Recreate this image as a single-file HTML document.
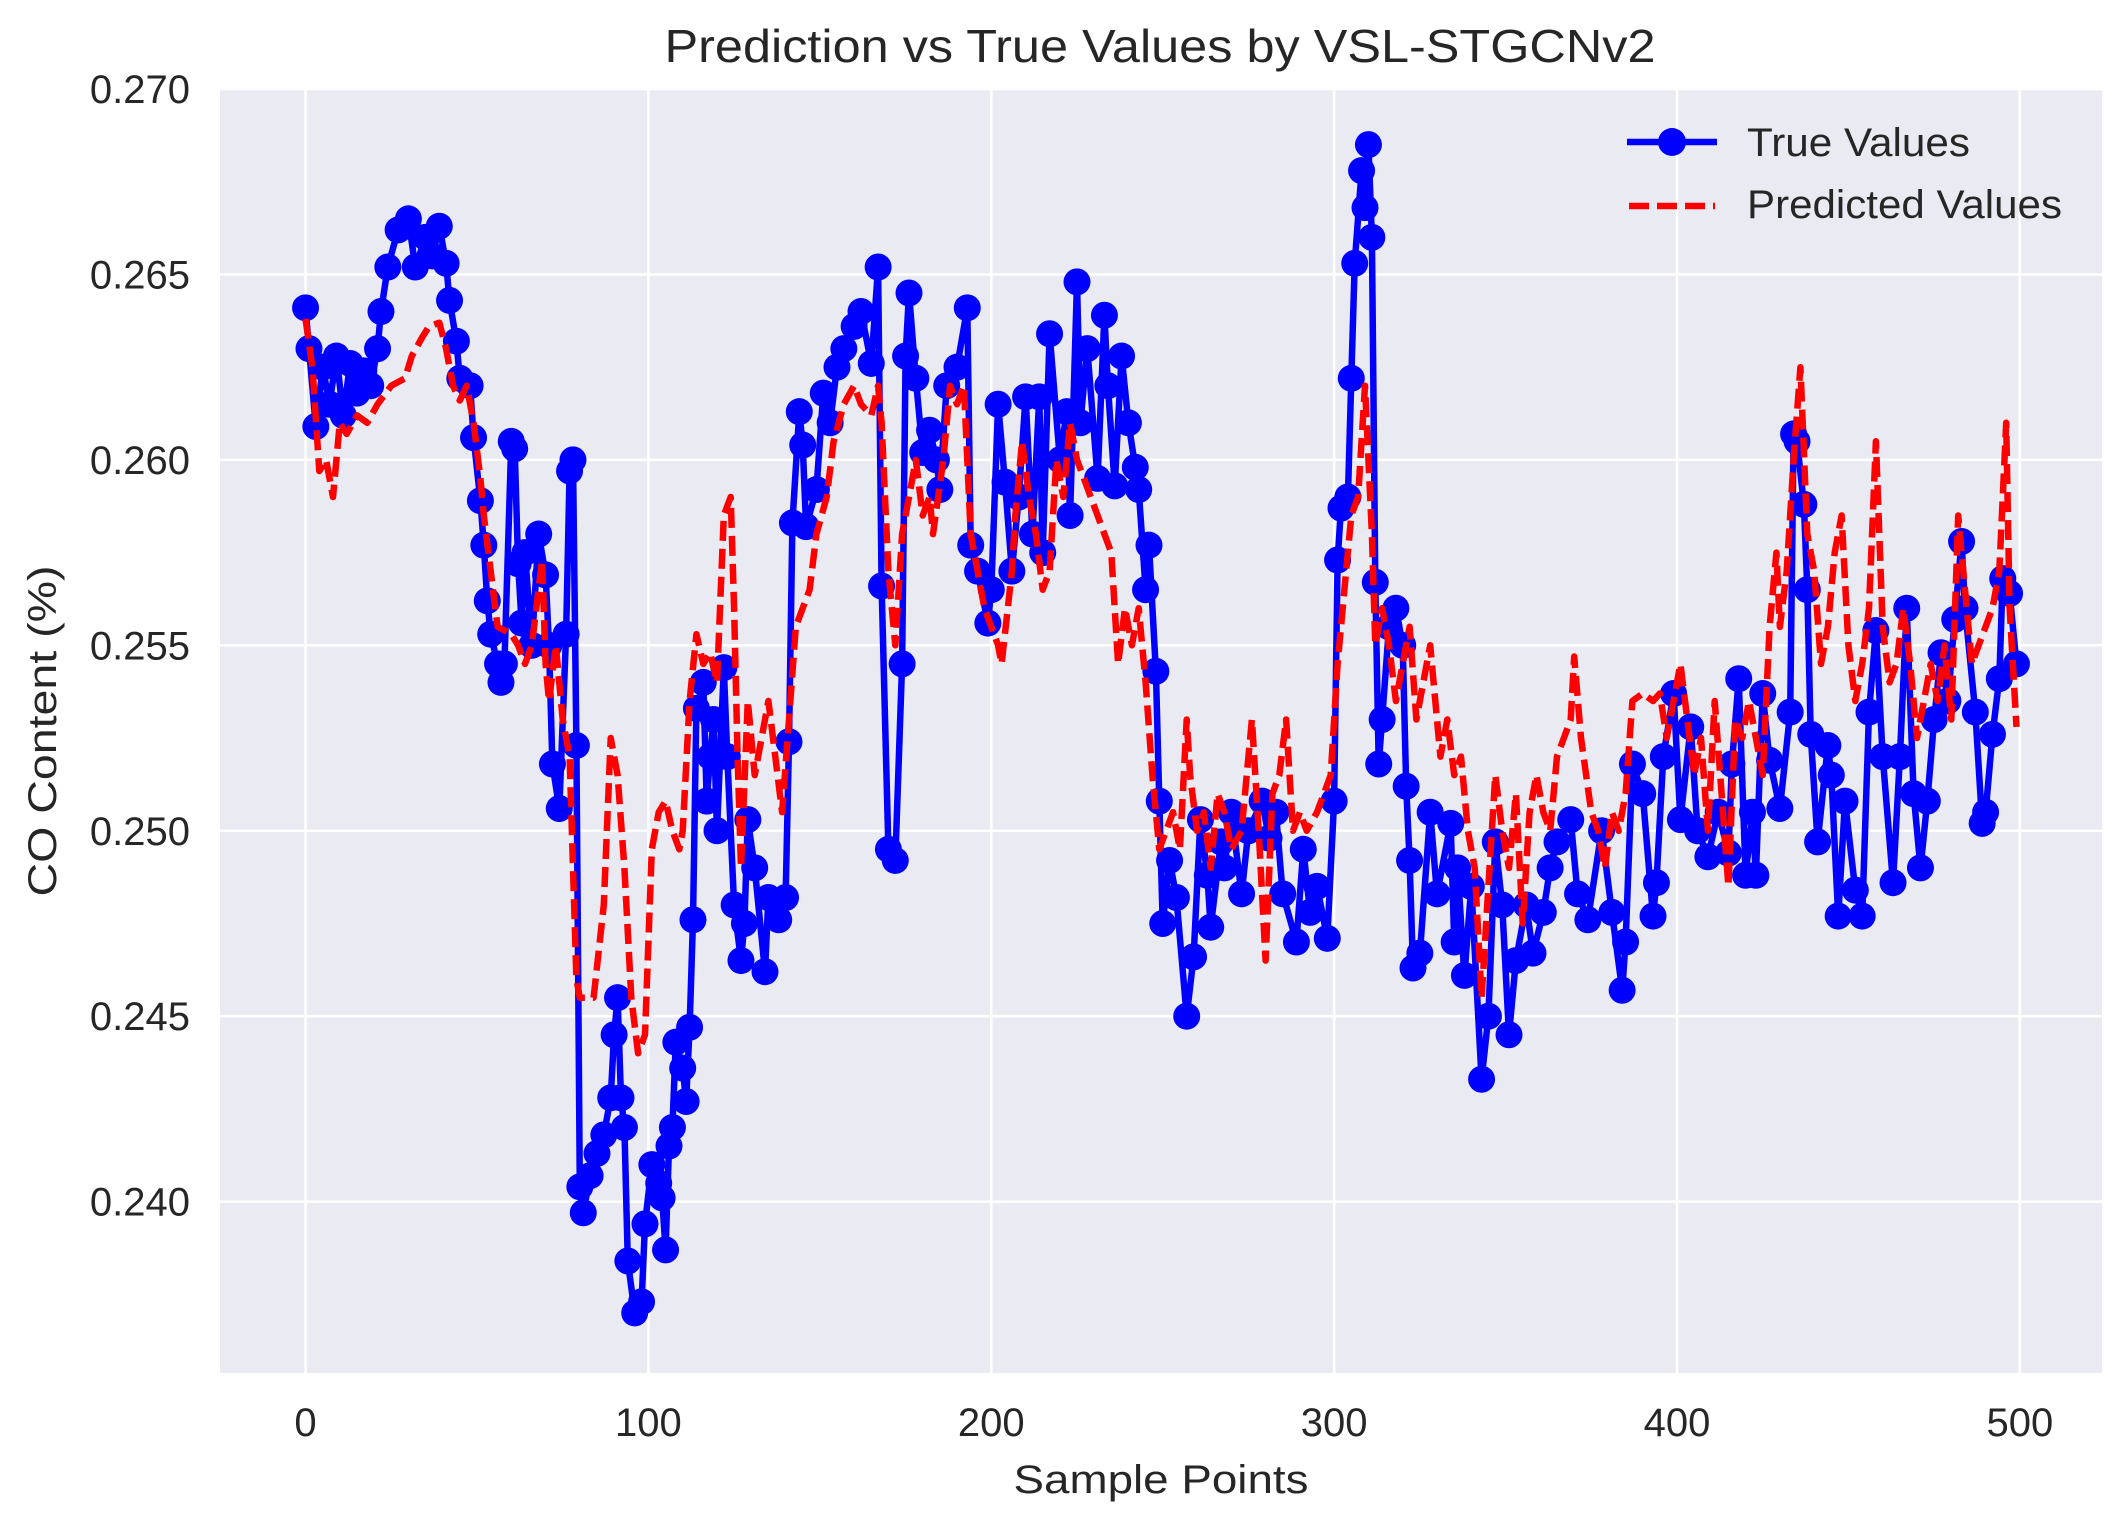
<!DOCTYPE html>
<html><head><meta charset="utf-8">
<style>
html,body{margin:0;padding:0;background:#fff;}
svg{display:block;font-family:"Liberation Sans",Arial,sans-serif;}
</style></head>
<body>
<svg id="chart" width="2120" height="1519" viewBox="0 0 2120 1519" xmlns="http://www.w3.org/2000/svg">
<rect x="220" y="89" width="1882" height="1284" fill="#EAEAF2"/>
<g id="grid"></g>
<g id="series"></g>
<g id="ticks"></g>
<text x="1160" y="62" font-size="46" fill="#262626" text-anchor="middle" textLength="991" lengthAdjust="spacingAndGlyphs">Prediction vs True Values by VSL-STGCNv2</text>
<text x="1161" y="1493" font-size="40" fill="#262626" text-anchor="middle" textLength="295" lengthAdjust="spacingAndGlyphs">Sample Points</text>
<text transform="translate(56,731) rotate(-90)" font-size="40" fill="#262626" text-anchor="middle" textLength="331" lengthAdjust="spacingAndGlyphs">CO Content (%)</text>
<g>
  <g>
    <line x1="1627" y1="142" x2="1717" y2="142" stroke="#0000FF" stroke-width="6.5"/>
    <circle cx="1672" cy="142" r="14" fill="#0000FF"/>
    <text x="1747" y="156" font-size="40" fill="#262626" textLength="223" lengthAdjust="spacingAndGlyphs">True Values</text>
  </g>
  <g>
    <line x1="1629" y1="206" x2="1715" y2="206" stroke="#FF0000" stroke-width="6.5" stroke-dasharray="20,8"/>
    <text x="1747" y="218" font-size="40" fill="#262626" textLength="315" lengthAdjust="spacingAndGlyphs">Predicted Values</text>
  </g>
</g>
</svg>
<script>
const trueIdx=[0,1,3,5,7,9,11,13,15,17,19,21,22,24,27,30,32,35,37,39,41,42,44,45,48,49,51,52,53,54,56,57,58,60,61,62,63,64,66,68,70,71,72,74,76,77,78,79,80,81,83,85,87,89,90,91,92,93,94,96,98,99,101,103,104,105,106,107,108,110,111,112,113,114,116,117,118,119,120,122,123,125,127,128,129,131,134,135,138,140,141,142,144,145,146,149,151,153,155,157,160,162,165,167,168,170,172,174,175,176,178,180,182,184,185,187,190,193,194,196,199,200,202,204,206,208,210,212,214,215,217,220,222,223,225,226,228,231,233,234,236,238,240,242,243,245,246,248,249,250,252,254,257,259,261,263,264,267,268,270,273,275,279,281,283,285,289,291,293,295,298,300,301,302,304,305,306,308,309,310,311,312,313,314,316,318,320,321,322,323,325,328,330,334,335,336,338,340,343,345,347,349,351,353,356,358,361,363,365,369,371,374,378,381,384,385,387,390,393,394,396,399,401,404,406,409,412,415,416,418,420,422,423,425,427,430,433,434,435,437,438,439,441,444,445,447,449,452,454,456,458,460,463,465,467,469,471,473,475,477,479,481,483,484,487,489,490,492,494,495,497,499];
const trueVals=[.2641,.2630,.2609,.2625,.2615,.2628,.2612,.2626,.2618,.2624,.2620,.2630,.2640,.2652,.2662,.2665,.2652,.2660,.2655,.2663,.2653,.2643,.2632,.2622,.2620,.2606,.2589,.2577,.2562,.2553,.2545,.2540,.2545,.2605,.2603,.2572,.2556,.2575,.2550,.2580,.2569,.2550,.2518,.2506,.2553,.2597,.2600,.2523,.2404,.2397,.2407,.2413,.2418,.2428,.2445,.2455,.2428,.2420,.2384,.2370,.2373,.2394,.2410,.2405,.2401,.2387,.2415,.2420,.2443,.2436,.2427,.2447,.2476,.2533,.2540,.2508,.2520,.2530,.2500,.2544,.2520,.2480,.2465,.2475,.2503,.2490,.2462,.2482,.2476,.2482,.2524,.2583,.2613,.2604,.2582,.2592,.2618,.2610,.2625,.2630,.2636,.2640,.2626,.2652,.2566,.2495,.2492,.2545,.2628,.2645,.2622,.2602,.2608,.2600,.2592,.2620,.2625,.2641,.2577,.2570,.2556,.2565,.2615,.2594,.2570,.2590,.2617,.2580,.2617,.2575,.2634,.2600,.2613,.2585,.2648,.2610,.2630,.2595,.2639,.2620,.2593,.2628,.2610,.2598,.2592,.2565,.2577,.2543,.2508,.2475,.2492,.2482,.2450,.2466,.2503,.2488,.2474,.2497,.2490,.2505,.2483,.2500,.2508,.2498,.2505,.2483,.2470,.2495,.2478,.2485,.2471,.2508,.2573,.2587,.2590,.2622,.2653,.2678,.2668,.2685,.2660,.2567,.2518,.2530,.2555,.2560,.2550,.2512,.2492,.2463,.2467,.2505,.2483,.2502,.2470,.2490,.2461,.2485,.2433,.2450,.2497,.2480,.2445,.2465,.2480,.2467,.2478,.2490,.2497,.2503,.2483,.2476,.2500,.2478,.2457,.2470,.2518,.2510,.2477,.2486,.2520,.2537,.2503,.2528,.2500,.2493,.2505,.2494,.2518,.2541,.2488,.2505,.2488,.2537,.2519,.2506,.2532,.2607,.2605,.2588,.2565,.2526,.2497,.2523,.2515,.2477,.2508,.2484,.2477,.2532,.2554,.2520,.2486,.2520,.2560,.2510,.2490,.2508,.2530,.2548,.2535,.2557,.2578,.2560,.2532,.2502,.2505,.2526,.2541,.2568,.2564,.2545];
const predIdx=[0,2,4,6,8,10,12,15,18,21,25,29,31,34,36,39,41,43,45,47,49,51,52,54,56,60,62,64,66,69,70,71,73,75,77,79,80,84,87,89,91,93,95,97,99,101,103,105,107,109,110,112,114,116,118,120,122,124,125,126,127,129,131,133,135,137,139,141,143,145,147,149,152,154,157,160,162,165,167,168,170,172,174,176,178,180,182,183,186,188,190,192,194,196,198,200,202,203,206,207,209,211,213,215,217,219,221,223,225,227,229,231,233,235,237,239,241,243,245,247,249,251,253,255,257,258,260,262,264,266,268,270,273,274,276,278,280,282,284,286,288,290,292,295,297,299,301,303,305,307,309,311,312,314,316,318,320,322,324,326,328,330,331,333,335,337,339,341,343,345,347,349,351,353,355,357,359,361,363,365,367,369,370,372,375,377,379,381,383,385,387,390,393,395,397,399,401,403,405,407,409,411,413,415,417,419,421,423,425,427,429,430,432,434,436,438,440,442,444,446,448,450,452,454,456,458,460,462,464,466,468,470,472,474,476,478,480,482,484,486,488,490,492,494,496,497,499];
const predVals=[.2638,.2625,.2597,.2600,.2590,.2610,.2607,.2612,.2610,.2615,.2620,.2622,.2628,.2633,.2636,.2637,.2630,.2620,.2616,.2620,.2610,.2595,.2585,.2570,.2555,.2553,.2550,.2545,.2550,.2573,.2545,.2535,.2550,.2530,.2520,.2460,.2455,.2455,.2480,.2525,.2515,.2490,.2455,.2440,.2445,.2495,.2505,.2508,.2500,.2495,.2500,.2535,.2553,.2545,.2548,.2540,.2585,.2590,.2560,.2520,.2490,.2535,.2515,.2525,.2535,.2520,.2505,.2530,.2555,.2560,.2565,.2580,.2590,.2605,.2615,.2620,.2615,.2612,.2620,.2610,.2570,.2550,.2580,.2590,.2600,.2585,.2590,.2580,.2600,.2620,.2615,.2620,.2580,.2570,.2560,.2555,.2550,.2545,.2570,.2585,.2605,.2590,.2580,.2565,.2570,.2600,.2590,.2610,.2600,.2595,.2590,.2585,.2580,.2575,.2545,.2560,.2550,.2560,.2540,.2515,.2495,.2500,.2505,.2495,.2530,.2515,.2500,.2505,.2490,.2510,.2505,.2495,.2500,.2510,.2530,.2500,.2465,.2510,.2515,.2530,.2500,.2505,.2500,.2505,.2510,.2515,.2545,.2565,.2585,.2590,.2620,.2580,.2550,.2560,.2550,.2535,.2545,.2555,.2530,.2540,.2550,.2530,.2520,.2530,.2515,.2520,.2500,.2490,.2455,.2485,.2515,.2500,.2490,.2510,.2475,.2505,.2515,.2505,.2500,.2520,.2525,.2530,.2547,.2525,.2505,.2500,.2490,.2505,.2500,.2510,.2535,.2537,.2535,.2537,.2525,.2535,.2545,.2530,.2515,.2525,.2500,.2535,.2510,.2485,.2530,.2525,.2535,.2525,.2515,.2555,.2575,.2555,.2570,.2600,.2625,.2580,.2570,.2545,.2555,.2575,.2585,.2550,.2535,.2545,.2560,.2605,.2555,.2540,.2545,.2560,.2545,.2525,.2535,.2545,.2535,.2550,.2530,.2585,.2565,.2545,.2550,.2555,.2560,.2570,.2610,.2560,.2528];
const xTicks=[0,100,200,300,400,500];
const yTicks=[0.240,0.245,0.250,0.255,0.260,0.265,0.270];
const yTickLabels=["0.240","0.245","0.250","0.255","0.260","0.265","0.270"];

const NS="http://www.w3.org/2000/svg";
const L=220,R=2102,T=89,B=1373;
const xMin=-24.95,xMax=523.95,yMin=0.23538,yMax=0.27;
function xs(v){return L+(v-xMin)/(xMax-xMin)*(R-L);}
function ys(v){return B-(v-yMin)/(yMax-yMin)*(B-T);}
function mk(tag,attrs,parent){const e=document.createElementNS(NS,tag);for(const k in attrs)e.setAttribute(k,attrs[k]);parent.appendChild(e);return e;}

const grid=document.getElementById('grid'),ticks=document.getElementById('ticks'),series=document.getElementById('series');
xTicks.forEach(t=>{
  const g=mk('line',{x1:xs(t),x2:xs(t),y1:T,y2:B,stroke:'#fff','stroke-width':2.6},grid);
  
  
  const lb=mk('text',{x:xs(t),y:1436,'font-size':40,fill:'#262626','text-anchor':'middle'},ticks);
  lb.textContent=String(t);
  
  
});
yTicks.forEach((t,i)=>{
  const g=mk('line',{x1:L,x2:R,y1:ys(t),y2:ys(t),stroke:'#fff','stroke-width':2.6},grid);
  
  
  const lb=mk('text',{x:190,y:ys(t)+14,'font-size':40,fill:'#262626','text-anchor':'end'},ticks);
  lb.textContent=yTickLabels[i];
  
  
});
const tp=trueIdx.map((v,i)=>xs(v).toFixed(1)+','+ys(trueVals[i]).toFixed(1)).join(' ');
const tl=mk('polyline',{points:tp,fill:'none',stroke:'#0000FF','stroke-width':6.5,'stroke-linejoin':'round'},series);


const mg=mk('g',{fill:'#0000FF'},series);


trueIdx.forEach((v,i)=>{
  const c=mk('circle',{cx:xs(v),cy:ys(trueVals[i]),r:13.5},mg);
  
  
});
const pp=predIdx.map((v,i)=>xs(v).toFixed(1)+','+ys(predVals[i]).toFixed(1)).join(' ');
const pl=mk('polyline',{points:pp,fill:'none',stroke:'#FF0000','stroke-width':6.5,'stroke-dasharray':'20,8','stroke-linejoin':'round'},series);


</script>
</body></html>
